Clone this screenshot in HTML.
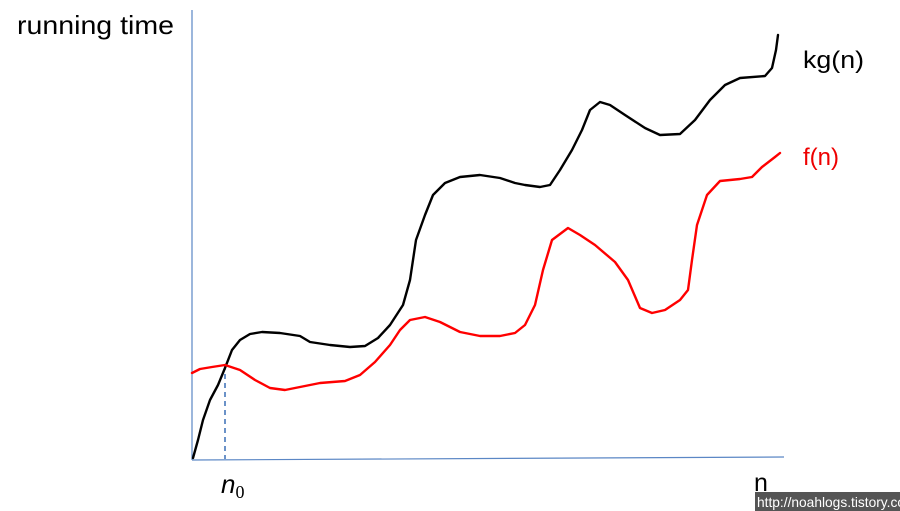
<!DOCTYPE html>
<html><head><meta charset="utf-8"><style>
html,body{margin:0;padding:0;background:#fff;width:900px;height:511px;overflow:hidden}
svg{display:block}
text{font-family:"Liberation Sans","Noto Sans CJK KR",sans-serif}
</style></head><body>
<svg id="chart" width="900" height="511">
<line x1="192" y1="10" x2="192" y2="460" stroke="#5b87c5" stroke-width="1.2"/>
<line x1="192" y1="460" x2="784" y2="457" stroke="#5b87c5" stroke-width="1.2"/>
<text x="17" y="34" font-size="26" textLength="157" lengthAdjust="spacingAndGlyphs" fill="#000">running time</text>
<text x="803" y="68" font-size="24" textLength="61" lengthAdjust="spacingAndGlyphs" fill="#000">kg(n)</text>
<text x="803" y="165" font-size="24" fill="#e00">f(n)</text>
<text x="221" y="493" font-size="26" font-style="italic" font-family="Liberation Serif,serif" fill="#000">n<tspan font-size="18" dy="5" font-style="normal" font-family="Liberation Serif,serif">0</tspan></text>
<text x="754" y="491" font-size="25" fill="#000">n</text>
<rect x="755" y="492" width="145" height="19" fill="#555"/>
<text x="757" y="507" font-size="14" textLength="148" lengthAdjust="spacingAndGlyphs" fill="#fff">http://noahlogs.tistory.co</text>
</svg>
<script>
const kgX=[0.25,1.5,2.75,4.5,6.5,8.25,10,12,14.5,17.5,22,27,29.5,34.5,39.5,43.25,46.5,49.5,52.75,54.5,56,58.25,60.25,63.25,67,72,77,80.75,83.25,87,89.5,92,95,97.5,99.5,102,104.5,108.25,113.25,117,122,125.75,129.5,133.25,137,143.25,145,146,146.5];
const kgY=[0.5,5,10,15,18.75,23,27.5,30,31.5,32,31.75,31,29.5,28.75,28.25,28.5,30.5,33.75,38.75,45,55,61.25,66.25,69.25,70.75,71.25,70.5,69.25,68.75,68.25,68.75,72.5,77.5,82.5,87.5,89.5,88.75,86.25,83,81.25,81.5,85,90,93.75,95.5,96,98,102.5,106.25];
const fX=[0,2,5,8.25,12,15.75,19.5,23.25,27,32,38.25,42,45.75,49.5,52,54.5,58.25,62,67,72,77,80.75,83.25,85.75,87.75,90,94,97,100.75,105.75,109,112,115,118.25,122,124,125,126.25,128.75,132,137,140,142.5,145.75,147];
const fY=[21.75,22.75,23.25,23.75,22.5,20,18,17.5,18.25,19.25,19.75,21.25,24.5,28.75,32.5,35,35.75,34.5,32,31,31,31.75,33.75,38.75,47.5,55,58,56.25,53.75,49.5,45,38,36.75,37.5,40,42.5,50,58.75,66.25,69.75,70.25,70.75,73.25,75.75,76.75];
const n0=8.25;
const sx=v=>192+v*4, sy=v=>460-v*4;
const svg=document.getElementById('chart');
const NS='http://www.w3.org/2000/svg';
function path(xs,ys,color){
  const p=document.createElementNS(NS,'path');
  p.setAttribute('d',xs.map((x,i)=>(i?'L':'M')+sx(x)+','+sy(ys[i])).join(''));
  p.setAttribute('fill','none');p.setAttribute('stroke',color);p.setAttribute('stroke-width','2.4');
  p.setAttribute('stroke-linejoin','round');p.setAttribute('stroke-linecap','round');
  svg.appendChild(p);return p;
}
const d=document.createElementNS(NS,'line');
d.setAttribute('x1',sx(n0));d.setAttribute('x2',sx(n0));d.setAttribute('y1',sy(23.75));d.setAttribute('y2',459);
d.setAttribute('stroke','#3a6fb5');d.setAttribute('stroke-width','1.5');d.setAttribute('stroke-dasharray','5,4');


svg.appendChild(d);
const pk=path(kgX,kgY,'#000');


const pf=path(fX,fY,'#f00');


</script>
</body></html>
